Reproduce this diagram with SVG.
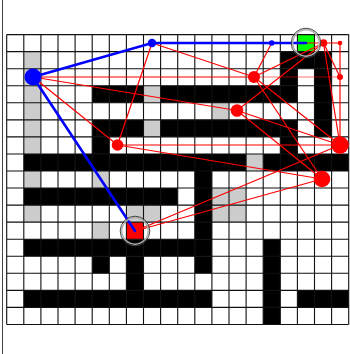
<svg xmlns="http://www.w3.org/2000/svg" width="350" height="354" viewBox="0 0 350 354">
<style>
.blk{fill:#000}
.gry{fill:#cccccc}
.grid{fill:none;stroke:#111;stroke-width:1.1}
.red{stroke:#ff0000;stroke-width:1.2;fill:none}
.redl{stroke:#ff0000;stroke-opacity:0.55;stroke-width:1.2;fill:none}
.blue{stroke:#0000ff;stroke-width:2.6;fill:none;stroke-linecap:round}
.rn{fill:#ff0000}
.bn{fill:#0000ff}
.ringo{fill:none;stroke:#444;stroke-width:1}
.ringi{fill:none;stroke:#b0b0b0;stroke-width:1.4}
</style>
<rect x="0" y="0" width="350" height="354" fill="#fff"/>
<line x1="2.5" y1="0" x2="2.5" y2="354" stroke="#444" stroke-width="1"/>
<g id="maze" transform="translate(6.7 34.6) scale(17.1 17.05)">
  <g class="gry">
    <rect x="1" y="1" width="1" height="6"/>
    <rect x="1" y="8" width="1" height="1"/>
    <rect x="1" y="10" width="1" height="1"/>
    <rect x="8" y="3" width="1" height="1"/>
    <rect x="8" y="5" width="1" height="1"/>
    <rect x="12" y="4" width="1" height="1"/>
    <rect x="14" y="7" width="1" height="1"/>
    <rect x="5" y="8" width="1" height="1"/>
    <rect x="5" y="11" width="1" height="1"/>
    <rect x="12" y="9" width="2" height="2"/>
    <rect x="7" y="10" width="2" height="1"/>
  </g>
  <g class="blk">
    <rect x="16" y="1" width="3" height="1"/>
    <rect x="16" y="2" width="1" height="1"/>
    <rect x="18" y="2" width="1" height="4"/>
    <rect x="5" y="3" width="3" height="1"/>
    <rect x="9" y="3" width="8" height="1"/>
    <rect x="5" y="5" width="3" height="1"/>
    <rect x="9" y="5" width="8" height="1"/>
    <rect x="5" y="6" width="1" height="1"/>
    <rect x="16" y="6" width="1" height="1"/>
    <rect x="1" y="7" width="13" height="1"/>
    <rect x="15" y="7" width="5" height="1"/>
    <rect x="11" y="8" width="1" height="4"/>
    <rect x="1" y="9" width="9" height="1"/>
    <rect x="1" y="12" width="11" height="1"/>
    <rect x="15" y="12" width="1" height="5"/>
    <rect x="5" y="13" width="1" height="1"/>
    <rect x="7" y="13" width="1" height="2"/>
    <rect x="11" y="13" width="1" height="1"/>
    <rect x="1" y="15" width="11" height="1"/>
    <rect x="17" y="15" width="3" height="1"/>
  </g>
  <rect id="goal-cell" x="17" y="0" width="1" height="1" fill="#00ff00"/>
  <rect id="start-cell" x="7" y="11" width="1" height="1" fill="#ff0000"/>
  <path class="grid" vector-effect="non-scaling-stroke" d="M0 0V17M1 0V17M2 0V17M3 0V17M4 0V17M5 0V17M6 0V17M7 0V17M8 0V17M9 0V17M10 0V17M11 0V17M12 0V17M13 0V17M14 0V17M15 0V17M16 0V17M17 0V17M18 0V17M19 0V17M20 0V17M0 0H20M0 1H20M0 2H20M0 3H20M0 4H20M0 5H20M0 6H20M0 7H20M0 8H20M0 9H20M0 10H20M0 11H20M0 12H20M0 13H20M0 14H20M0 15H20M0 16H20M0 17H20"/>
</g>
<g id="connectors">
  <line class="red" x1="33" y1="77" x2="254" y2="77"/>
  <line class="redl" x1="254" y1="77" x2="340" y2="77"/>
  <line class="red" x1="33" y1="77" x2="237" y2="110.5"/>
  <line class="red" x1="33" y1="77" x2="117.5" y2="145"/>
  <line class="red" x1="152" y1="43" x2="254" y2="77"/>
  <line class="red" x1="152" y1="43" x2="117.5" y2="145"/>
  <line class="red" x1="271.7" y1="43" x2="254" y2="77"/>
  <line class="red" x1="254" y1="77" x2="323.5" y2="43"/>
  <line class="red" x1="237" y1="110.5" x2="323.5" y2="43"/>
  <line class="red" x1="306" y1="43" x2="340" y2="43"/>
  <line class="red" x1="323.5" y1="43" x2="340" y2="77"/>
  <line class="red" x1="340" y1="43" x2="340" y2="145"/>
  <line class="red" x1="323.5" y1="43" x2="340" y2="145"/>
  <line class="red" x1="254" y1="77" x2="340" y2="145"/>
  <line class="red" x1="254" y1="77" x2="322" y2="179"/>
  <line class="red" x1="237" y1="110.5" x2="340" y2="145"/>
  <line class="red" x1="237" y1="110.5" x2="322" y2="179"/>
  <line class="red" x1="117.5" y1="145" x2="340" y2="145"/>
  <line class="red" x1="117.5" y1="145" x2="322" y2="179"/>
  <line class="red" x1="135" y1="231" x2="340" y2="145"/>
  <line class="red" x1="135" y1="231" x2="322" y2="179"/>
  <polyline class="blue" points="33,77 152,43 271.7,43 306,43"/>
  <line class="blue" x1="33" y1="77" x2="135" y2="231"/>
</g>
<g id="node-R1"><circle class="rn" cx="254" cy="77" r="6"/></g>
<g id="node-R2"><circle class="rn" cx="237" cy="110.5" r="6.3"/></g>
<g id="node-R3"><circle class="rn" cx="117.5" cy="145" r="5.8"/></g>
<g id="node-R4"><circle class="rn" cx="340" cy="145" r="8.7"/></g>
<g id="node-R5"><circle class="rn" cx="322" cy="179" r="8.3"/></g>
<g id="node-R6"><circle class="rn" cx="323.5" cy="43" r="3.8"/></g>
<g id="node-R7"><circle class="rn" cx="340" cy="43" r="2.3"/></g>
<g id="node-R8"><circle class="rn" cx="340" cy="77" r="3"/></g>
<g id="node-B1"><circle class="bn" cx="33" cy="77" r="8.5"/></g>
<g id="node-B2"><circle class="bn" cx="152" cy="43" r="4.3"/></g>
<g id="node-B3"><circle class="bn" cx="271.7" cy="43" r="2.8"/></g>
<g id="node-goal"><circle class="ringi" cx="306" cy="43" r="13.2"/><circle class="ringo" cx="306" cy="43" r="14.8"/></g>
<g id="node-start"><circle class="ringi" cx="135" cy="231" r="13.2"/><circle class="ringo" cx="135" cy="231" r="14.8"/></g>
</svg>
